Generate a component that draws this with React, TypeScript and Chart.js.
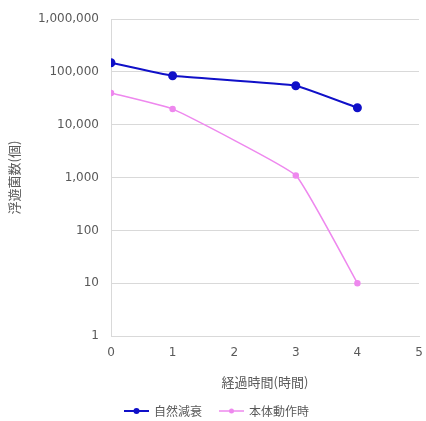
import React, { useEffect, useRef } from "react";
import { Chart, registerables } from "chart.js";

Chart.register(...registerables);

const hours = [0, 1, 3, 4];
const naturalDecay = [150000, 85000, 55000, 21000];
const unitRunning = [40000, 20000, 1100, 10];
const seriesNames = ["自然減衰", "本体動作時"];
const yTicks = [1, 10, 100, 1000, 10000, 100000, 1000000];
const xTitle = "経過時間(時間)";
const yTitle = "浮遊菌数(個)";

const BLUE = "#1010c8";
const PINK = "#ee88ee";

function legendIcon(color: string, r: number, lw: number) {
  const c = document.createElement("canvas");
  c.width = 42;
  c.height = 10;
  const ctx = c.getContext("2d")!;
  ctx.strokeStyle = color;
  ctx.lineWidth = lw;
  ctx.beginPath();
  ctx.moveTo(16, 5);
  ctx.lineTo(41, 5);
  ctx.stroke();
  ctx.fillStyle = color;
  ctx.beginPath();
  ctx.arc(28.5, 5, r, 0, Math.PI * 2);
  ctx.fill();
  return c;
}

const legendShift = {
  id: "legendShift",
  afterLayout(chart: any) {
    if (chart.legend) {
      chart.legend.top += 6;
      chart.legend.bottom += 6;
    }
  },
};

export default function App() {
  const ref = useRef<HTMLCanvasElement | null>(null);
  useEffect(() => {
    if (!ref.current) return;
    const cjk = "'Noto Sans CJK JP', sans-serif";
    const num = "'DejaVu Sans', sans-serif";
    const chart = new Chart(ref.current, {
      type: "line",
      data: {
        datasets: [
          {
            label: seriesNames[0],
            data: hours.map((h, i) => ({ x: h, y: naturalDecay[i] })),
            borderColor: BLUE,
            backgroundColor: BLUE,
            borderWidth: 2,
            pointRadius: 3.5,
            pointStyle: "circle",
            tension: 0.1,
          },
          {
            label: seriesNames[1],
            data: hours.map((h, i) => ({ x: h, y: unitRunning[i] })),
            borderColor: PINK,
            backgroundColor: PINK,
            borderWidth: 1.5,
            pointRadius: 2.5,
            pointStyle: "circle",
            tension: 0.1,
          },
        ],
      },
      plugins: [legendShift],
      options: {
        responsive: false,
        animation: false,
        devicePixelRatio: 1,
        layout: { padding: { top: 16, right: 7, left: 0, bottom: 0 } },
        plugins: {
          tooltip: { enabled: false },
          legend: {
            position: "bottom",
            labels: {
              usePointStyle: true,
              pointStyleWidth: 38,
              font: { family: cjk, size: 12 },
              color: "#595959",
              padding: 3,
              generateLabels: (ch: any) =>
                ch.data.datasets.map((ds: any, i: number) => ({
                  text: ds.label,
                  pointStyle: legendIcon(i === 0 ? BLUE : PINK, i === 0 ? 3 : 2.5, i === 0 ? 2 : 1.5),
                  fillStyle: ds.borderColor,
                  strokeStyle: ds.borderColor,
                  lineWidth: 0,
                  fontColor: "#595959",
                  datasetIndex: i,
                  hidden: false,
                })),
            },
          },
        },
        scales: {
          x: {
            type: "linear",
            min: 0,
            max: 5,
            ticks: { stepSize: 1, color: "#595959", font: { family: num, size: 12 }, padding: 10 },
            grid: { display: false, drawTicks: false },
            border: { display: true, color: "#d9d9d9", width: 1 },
            title: {
              display: true,
              text: xTitle,
              color: "#595959",
              font: { family: cjk, size: 13 },
              padding: { top: 4, bottom: 6 },
            },
            afterFit: (scale: any) => {
              const lg = scale.chart.legend;
              const lh = lg ? lg.height : 0;
              scale.height = 421 - lh - 336;
              scale.paddingRight = 0;
              scale.paddingLeft = 0;
            },
          },
          y: {
            type: "logarithmic",
            min: 1,
            max: 1000000,
            afterBuildTicks: (scale: any) => {
              scale.ticks = yTicks.map((v) => ({ value: v }));
            },
            ticks: {
              color: "#595959",
              font: { family: num, size: 12 },
              padding: 12,
              callback: (v: any) => Number(v).toLocaleString("en-US"),
            },
            grid: { color: "#d9d9d9", drawTicks: false },
            border: { display: true, color: "#d9d9d9", width: 1 },
            title: {
              display: true,
              text: yTitle,
              color: "#595959",
              font: { family: cjk, size: 13 },
              padding: { top: 6, bottom: 0 },
            },
            afterFit: (scale: any) => {
              scale.width = 111;
            },
          },
        },
      },
    });
    return () => chart.destroy();
  }, []);
  return (
    <div style={{ position: "fixed", left: 0, top: 0, width: 426, height: 421, background: "#fff" }}>
      <canvas ref={ref} width={426} height={421} style={{ width: 426, height: 421 }} />
    </div>
  );
}
